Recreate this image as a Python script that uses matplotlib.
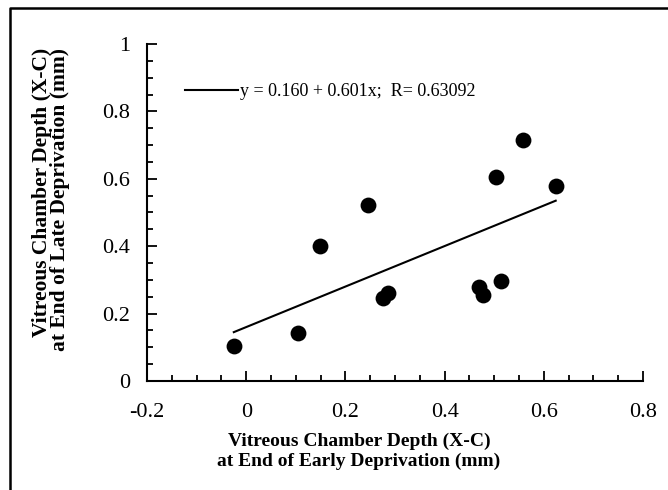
import matplotlib
matplotlib.use("Agg")
import matplotlib.pyplot as plt
from matplotlib.ticker import MultipleLocator
from matplotlib.lines import Line2D
import numpy as np

# Data
early_depth = [-0.025, 0.104, 0.149, 0.245, 0.275, 0.285, 0.469, 0.478, 0.513, 0.504, 0.559, 0.624]
late_depth = [0.105, 0.142, 0.400, 0.522, 0.245, 0.262, 0.280, 0.255, 0.298, 0.605, 0.715, 0.578]
fit_intercept = 0.160
fit_slope = 0.601
fit_label = "y = 0.160 + 0.601x;  R= 0.63092"
x_ticks = [-0.2, 0, 0.2, 0.4, 0.6, 0.8]
x_tick_labels = ["-0.2", "0", "0.2", "0.4", "0.6", "0.8"]
y_ticks = [0, 0.2, 0.4, 0.6, 0.8, 1]
y_tick_labels = ["0", "0.2", "0.4", "0.6", "0.8", "1"]
x_title = "Vitreous Chamber Depth (X-C)\nat End of Early Deprivation (mm)"
y_title = "Vitreous Chamber Depth (X-C)\nat End of Late Deprivation (mm)"

plt.rcParams['font.family'] = ['Liberation Serif', 'DejaVu Serif']

fig = plt.figure(figsize=(6.68, 4.90), dpi=100)
ax = fig.add_axes([147/668, 1 - 381/490, (643 - 147)/668, (381 - 44)/490])

ax.scatter(early_depth, late_depth, s=130, color='black', zorder=3, linewidths=0)

xf = np.array([min(early_depth), max(early_depth)])
ln, = ax.plot(xf, fit_intercept + fit_slope * xf, color='black', lw=1.5, label=fit_label)

ax.set_xlim(-0.2, 0.8)
ax.set_ylim(0, 1)
ax.set_xticks(x_ticks)
ax.set_xticklabels(x_tick_labels)
ax.set_yticks(y_ticks)
ax.set_yticklabels(y_tick_labels)
ax.xaxis.set_minor_locator(MultipleLocator(0.05))
ax.yaxis.set_minor_locator(MultipleLocator(0.05))
ax.tick_params(which='major', direction='in', length=7, width=1.3, labelsize=16)
ax.tick_params(which='minor', direction='in', length=4, width=1.3)
ax.tick_params(axis='x', pad=16)
ax.tick_params(axis='y', pad=12)

for s in ['top', 'right']:
    ax.spines[s].set_visible(False)
for s in ['left', 'bottom']:
    ax.spines[s].set_linewidth(1.5)

# axis titles
fig.text(359/668, 1 - 451/490, x_title, fontsize=14, fontweight='bold',
         ha='center', va='center', multialignment='center', linespacing=1.2)
fig.text(51/668, 1 - 48/490, y_title, fontsize=15.5, fontweight='bold',
         rotation=90, ha='center', va='top', multialignment='right', linespacing=0.9)

leg = ax.legend(handles=[ln], loc='upper left', bbox_to_anchor=(0.063, 0.905),
                frameon=False, fontsize=13, handlelength=2.9, handletextpad=0.1,
                borderaxespad=0)

# outer frame (scanned box)
fig.add_artist(Line2D([10/668, 10/668, 1.0], [0.0, 1 - 8/490, 1 - 8/490],
                      transform=fig.transFigure, color='black', lw=1.8))

fig.savefig("out.png", dpi=100)
